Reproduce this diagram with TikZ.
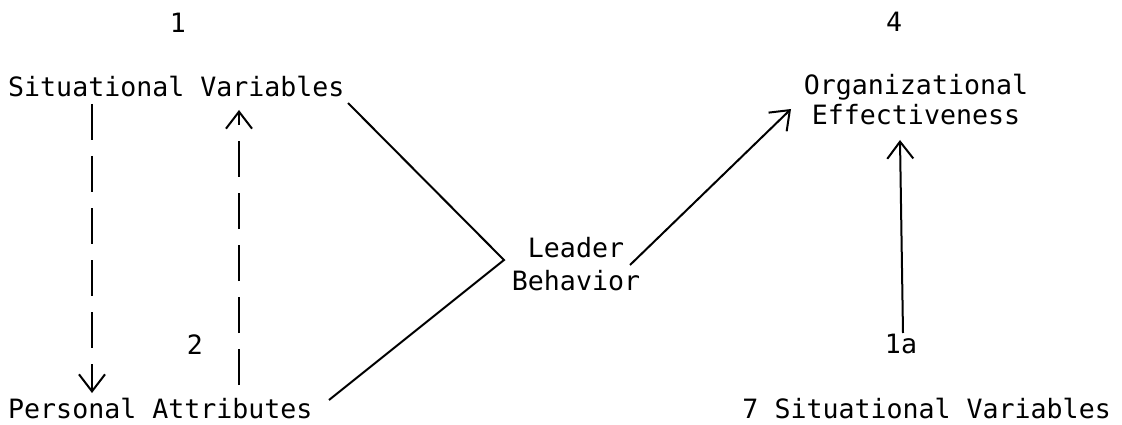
\documentclass[tikz,border=0pt]{standalone}
\usepackage{fontspec}
\newfontfamily\tw{DejaVu Sans Mono}
\usetikzlibrary{arrows.meta,calc}
\begin{document}
\begin{tikzpicture}[x=1pt,y=-1pt,
  lbl/.style={inner sep=0pt,font=\tw\fontsize{26.6}{31.5}\selectfont,text=black},
  conn/.style={line width=2pt,black},
  dashconn/.style={conn,dash pattern=on 36pt off 16pt},
  barb/.style={-{Straight Barb[length=17pt,width=26pt,line width=2pt]}}]
\useasboundingbox (0,0) rectangle (1122,425);
% labels
\node[lbl,anchor=base] (n1) at (178,33) {1};
\node[lbl,anchor=base west] (sv) at (8,97) {Situational Variables};
\node[lbl,anchor=base] (n4) at (894,32) {4};
\node[lbl,anchor=base,align=center] (oe) at (916,125) {Organizational\\[-1.5pt]Effectiveness};
\node[lbl,anchor=base,align=center] (lb) at (576,290) {Leader\\[1.5pt]Behavior};
\node[lbl,anchor=base] (n2) at (195,354) {2};
\node[lbl,anchor=base west] (pa) at (8,418) {Personal Attributes};
\node[lbl,anchor=base] (n1a) at (901,353) {1a};
\node[lbl,anchor=base east] (sv7) at (1111,418) {7 Situational Variables};
% junction points
\coordinate (v) at (504,260);
\coordinate (svend) at (348,103);
\coordinate (paend) at (329,400);
\coordinate (lbend) at (630,265);
\coordinate (oetip) at (791,109);
\coordinate (dl1) at (92,104);
\coordinate (dl2) at (92,393);
\coordinate (dr1) at (239,385);
\coordinate (dr2) at (239,110);
\coordinate (vs1) at (903,333);
\coordinate (vs2) at (900,140);
% connectors
\draw[dashconn,barb] (dl1) -- (dl2);
\draw[dashconn,barb] (dr1) -- (dr2);
\draw[conn,line join=miter] (svend) -- (v) -- (paend);
\draw[conn,barb] (lbend) -- (oetip);
\draw[conn,barb] (vs1) -- (vs2);
\end{tikzpicture}
\end{document}
